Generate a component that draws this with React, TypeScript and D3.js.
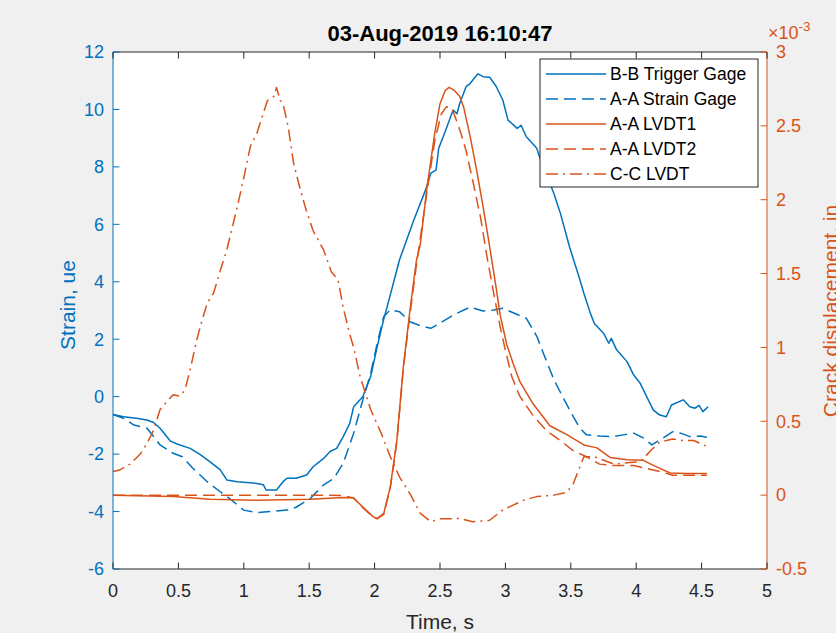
import React from "react";
import * as d3 from "d3";

// ---------- data ----------
const xTicks = [0, 0.5, 1, 1.5, 2, 2.5, 3, 3.5, 4, 4.5, 5];
const leftTicks = [-6, -4, -2, 0, 2, 4, 6, 8, 10, 12];
const rightTicks = [-0.5, 0, 0.5, 1, 1.5, 2, 2.5, 3];

const seriesNames = ["B-B Trigger Gage", "A-A Strain Gage", "A-A LVDT1", "A-A LVDT2", "C-C LVDT"];

const bbTime = [0, 0.08, 0.18, 0.26, 0.31, 0.36, 0.44, 0.49, 0.59, 0.67, 0.74, 0.82, 0.87, 0.95, 1.1, 1.15, 1.17, 1.25, 1.3, 1.33, 1.4, 1.48, 1.53, 1.61, 1.66, 1.71, 1.76, 1.81, 1.84, 1.91, 1.97, 2.02, 2.07, 2.11, 2.19, 2.3, 2.39, 2.43, 2.47, 2.49, 2.54, 2.6, 2.63, 2.65, 2.7, 2.73, 2.79, 2.83, 2.88, 2.93, 2.98, 3.02, 3.09, 3.12, 3.16, 3.24, 3.26, 3.37, 3.42, 3.49, 3.57, 3.6, 3.65, 3.68, 3.75, 3.79, 3.81, 3.85, 3.93, 3.98, 4.03, 4.08, 4.13, 4.18, 4.23, 4.27, 4.36, 4.41, 4.45, 4.48, 4.51, 4.55];
const bbStrain = [-0.62, -0.7, -0.75, -0.81, -0.9, -1.1, -1.55, -1.65, -1.8, -2.03, -2.26, -2.55, -2.9, -2.96, -3.02, -3.07, -3.25, -3.25, -2.96, -2.84, -2.84, -2.73, -2.44, -2.15, -1.91, -1.8, -1.39, -0.93, -0.35, 0.0, 0.7, 1.74, 2.7, 3.37, 4.76, 6.15, 7.2, 7.78, 7.89, 8.65, 9.23, 9.98, 9.85, 10.2, 10.8, 10.9, 11.24, 11.14, 11.12, 10.8, 10.33, 9.63, 9.34, 9.45, 9.05, 8.65, 8.36, 7.08, 6.39, 5.22, 4.06, 3.6, 2.9, 2.55, 2.21, 1.86, 2.03, 1.63, 1.22, 0.76, 0.47, 0.0, -0.46, -0.64, -0.7, -0.29, -0.11, -0.35, -0.4, -0.3, -0.52, -0.35];

const aaTime = [0, 0.08, 0.16, 0.26, 0.36, 0.46, 0.53, 0.61, 0.72, 0.82, 0.89, 1.0, 1.1, 1.2, 1.33, 1.4, 1.51, 1.61, 1.69, 1.76, 1.84, 1.91, 1.97, 2.02, 2.07, 2.12, 2.19, 2.27, 2.35, 2.43, 2.5, 2.6, 2.73, 2.83, 2.91, 2.98, 3.09, 3.16, 3.24, 3.3, 3.37, 3.45, 3.52, 3.57, 3.62, 3.72, 3.82, 3.9, 3.98, 4.06, 4.12, 4.18, 4.28, 4.34, 4.41, 4.49, 4.54];
const aaStrain = [-0.62, -0.75, -0.99, -1.1, -1.68, -1.97, -2.09, -2.49, -2.96, -3.31, -3.54, -3.95, -4.04, -4.0, -3.95, -3.85, -3.54, -3.07, -2.84, -2.32, -1.27, -0.11, 0.81, 1.86, 2.79, 3.02, 2.96, 2.61, 2.47, 2.38, 2.56, 2.84, 3.12, 2.98, 3.02, 3.08, 2.86, 2.73, 2.1, 1.4, 0.6, -0.11, -0.7, -1.1, -1.33, -1.37, -1.39, -1.33, -1.27, -1.45, -1.68, -1.51, -1.22, -1.27, -1.39, -1.37, -1.41];

const lvdt1Time = [0, 0.46, 0.74, 1.1, 1.51, 1.76, 1.84, 1.91, 1.99, 2.02, 2.07, 2.12, 2.17, 2.22, 2.27, 2.32, 2.35, 2.4, 2.46, 2.5, 2.54, 2.57, 2.61, 2.65, 2.68, 2.73, 2.78, 2.83, 2.88, 2.93, 2.96, 3.01, 3.06, 3.11, 3.21, 3.34, 3.47, 3.6, 3.7, 3.8, 3.93, 4.05, 4.16, 4.26, 4.39, 4.54];
const lvdt1Disp = [0.0, -0.01, -0.027, -0.034, -0.027, -0.016, -0.02, -0.08, -0.147, -0.158, -0.124, 0.056, 0.37, 0.87, 1.25, 1.59, 1.7, 2.08, 2.45, 2.65, 2.74, 2.76, 2.74, 2.7, 2.63, 2.43, 2.2, 1.95, 1.68, 1.4, 1.22, 1.02, 0.89, 0.77, 0.62, 0.47, 0.41, 0.34, 0.32, 0.255, 0.24, 0.237, 0.19, 0.15, 0.147, 0.147];

const lvdt2Time = [0, 0.5, 1.0, 1.5, 1.76, 1.84, 1.91, 1.99, 2.02, 2.07, 2.12, 2.17, 2.22, 2.27, 2.32, 2.4, 2.46, 2.51, 2.55, 2.59, 2.62, 2.66, 2.7, 2.75, 2.81, 2.86, 2.91, 2.96, 3.0, 3.05, 3.11, 3.21, 3.31, 3.42, 3.52, 3.62, 3.72, 3.83, 3.98, 4.08, 4.18, 4.28, 4.41, 4.54];
const lvdt2Disp = [0.0, 0.0, 0.0, 0.0, -0.002, -0.02, -0.085, -0.15, -0.16, -0.13, 0.05, 0.36, 0.86, 1.22, 1.56, 2.05, 2.4, 2.58, 2.63, 2.62, 2.55, 2.45, 2.33, 2.13, 1.88, 1.61, 1.37, 1.14, 0.98, 0.8, 0.67, 0.54, 0.44, 0.37, 0.3, 0.26, 0.21, 0.2, 0.2, 0.18, 0.16, 0.135, 0.135, 0.135];

const ccTime = [0, 0.05, 0.13, 0.21, 0.26, 0.31, 0.36, 0.42, 0.46, 0.51, 0.55, 0.59, 0.64, 0.68, 0.72, 0.77, 0.82, 0.87, 0.95, 1.0, 1.05, 1.1, 1.18, 1.23, 1.25, 1.28, 1.3, 1.34, 1.38, 1.42, 1.47, 1.53, 1.61, 1.67, 1.72, 1.76, 1.81, 1.84, 1.89, 1.97, 2.05, 2.12, 2.19, 2.27, 2.35, 2.43, 2.5, 2.58, 2.65, 2.75, 2.88, 2.98, 3.14, 3.24, 3.37, 3.47, 3.52, 3.6, 3.68, 3.83, 3.93, 4.03, 4.11, 4.18, 4.28, 4.36, 4.44, 4.54];
const ccDisp = [0.16, 0.17, 0.21, 0.28, 0.35, 0.44, 0.58, 0.64, 0.68, 0.67, 0.71, 0.85, 1.05, 1.18, 1.3, 1.37, 1.52, 1.66, 1.95, 2.15, 2.36, 2.45, 2.67, 2.7, 2.76, 2.67, 2.65, 2.49, 2.25, 2.11, 1.95, 1.79, 1.66, 1.51, 1.46, 1.27, 1.09, 1.0, 0.8, 0.58, 0.42, 0.26, 0.124, 0.01, -0.124, -0.18, -0.16, -0.16, -0.158, -0.18, -0.17, -0.1, -0.034, -0.01, 0.0, 0.02, 0.08, 0.26, 0.26, 0.21, 0.22, 0.225, 0.3, 0.36, 0.38, 0.37, 0.37, 0.33];

// ---------- layout ----------
const W = 836, H = 633;
const L = 113, R = 767, T = 52, B = 569;
const BLUE = "#0072BD", ORANGE = "#D95319", DARK = "#262626";
const FONT = "'Liberation Sans', Arial, Helvetica, sans-serif";

export default function App() {
  const x = d3.scaleLinear().domain([0, 5]).range([L, R]);
  const yL = d3.scaleLinear().domain([-6, 12]).range([B, T]);
  const yR = d3.scaleLinear().domain([-0.5, 3]).range([B, T]);

  const mk = (ts: number[], vs: number[], ys: d3.ScaleLinear<number, number>) =>
    d3.line<number>().x((_, i) => x(ts[i])).y((v) => ys(v))(vs) || "";

  const series = [
    { name: seriesNames[0], d: mk(bbTime, bbStrain, yL), color: BLUE, dash: "" },
    { name: seriesNames[1], d: mk(aaTime, aaStrain, yL), color: BLUE, dash: "12,6" },
    { name: seriesNames[2], d: mk(lvdt1Time, lvdt1Disp, yR), color: ORANGE, dash: "" },
    { name: seriesNames[3], d: mk(lvdt2Time, lvdt2Disp, yR), color: ORANGE, dash: "12,6" },
    { name: seriesNames[4], d: mk(ccTime, ccDisp, yR), color: ORANGE, dash: "12,5,2,5" },
  ];

  const tk = 6.5;
  const lgX = 540, lgY = 59, lgW = 218, lgH = 128, rowH = 25;

  return (
    <svg width={W} height={H} style={{ position: "absolute", left: 0, top: 0, fontFamily: FONT }}>
      <rect x={0} y={0} width={W} height={H} fill="#f0f0f0" />
      <rect x={L} y={T} width={R - L} height={B - T} fill="#ffffff" />

      {/* data lines */}
      {series.map((s, i) => (
        <path key={i} d={s.d} fill="none" stroke={s.color} strokeWidth={1.5}
          strokeDasharray={s.dash || undefined} strokeLinejoin="round" />
      ))}

      {/* frame */}
      <line x1={L} x2={R} y1={T} y2={T} stroke={DARK} strokeWidth={1} />
      <line x1={L} x2={R} y1={B} y2={B} stroke={DARK} strokeWidth={1} />
      <line x1={L} x2={L} y1={T} y2={B} stroke={BLUE} strokeWidth={1} />
      <line x1={R} x2={R} y1={T} y2={B} stroke={ORANGE} strokeWidth={1} />

      {/* x ticks */}
      {xTicks.map((t) => (
        <g key={"x" + t}>
          <line x1={x(t)} x2={x(t)} y1={B} y2={B - tk} stroke={DARK} />
          <line x1={x(t)} x2={x(t)} y1={T} y2={T + tk} stroke={DARK} />
          <text x={x(t)} y={597} fontSize={18} fill={DARK} textAnchor="middle">{t}</text>
        </g>
      ))}
      {/* left ticks */}
      {leftTicks.map((v) => (
        <g key={"l" + v}>
          <line x1={L} x2={L + tk} y1={yL(v)} y2={yL(v)} stroke={BLUE} />
          <text x={104} y={yL(v)} dy="0.35em" fontSize={18} fill={BLUE} textAnchor="end">{v}</text>
        </g>
      ))}
      {/* right ticks */}
      {rightTicks.map((v) => (
        <g key={"r" + v}>
          <line x1={R} x2={R - tk} y1={yR(v)} y2={yR(v)} stroke={ORANGE} />
          <text x={776} y={yR(v)} dy="0.35em" fontSize={18} fill={ORANGE} textAnchor="start">{v}</text>
        </g>
      ))}
      <text x={768} y={39} fontSize={18} fill={ORANGE}>
        ×10<tspan dy={-8} fontSize={13.5}>-3</tspan>
      </text>

      {/* labels */}
      <text x={(L + R) / 2} y={629} fontSize={21} fill={DARK} textAnchor="middle">Time, s</text>
      <text transform={`translate(75,305) rotate(-90)`} fontSize={21} fill={BLUE} textAnchor="middle">Strain, ue</text>
      <text transform={`translate(838,311) rotate(-90)`} fontSize={21} fill={ORANGE} textAnchor="middle">Crack displacement, in</text>
      <text x={(L + R) / 2} y={41} fontSize={22} fontWeight="bold" fill="#000" textAnchor="middle">03-Aug-2019 16:10:47</text>

      {/* legend */}
      <rect x={lgX} y={lgY} width={lgW} height={lgH} fill="#fff" stroke={DARK} strokeWidth={1} />
      {series.map((s, i) => {
        const cy = lgY + 15 + i * rowH;
        return (
          <g key={"lg" + i}>
            <line x1={546} x2={606} y1={cy} y2={cy} stroke={s.color} strokeWidth={1.5}
              strokeDasharray={s.dash || undefined} />
            <text x={610} y={cy} dy="0.35em" fontSize={17.5} fill="#000">{s.name}</text>
          </g>
        );
      })}
    </svg>
  );
}
